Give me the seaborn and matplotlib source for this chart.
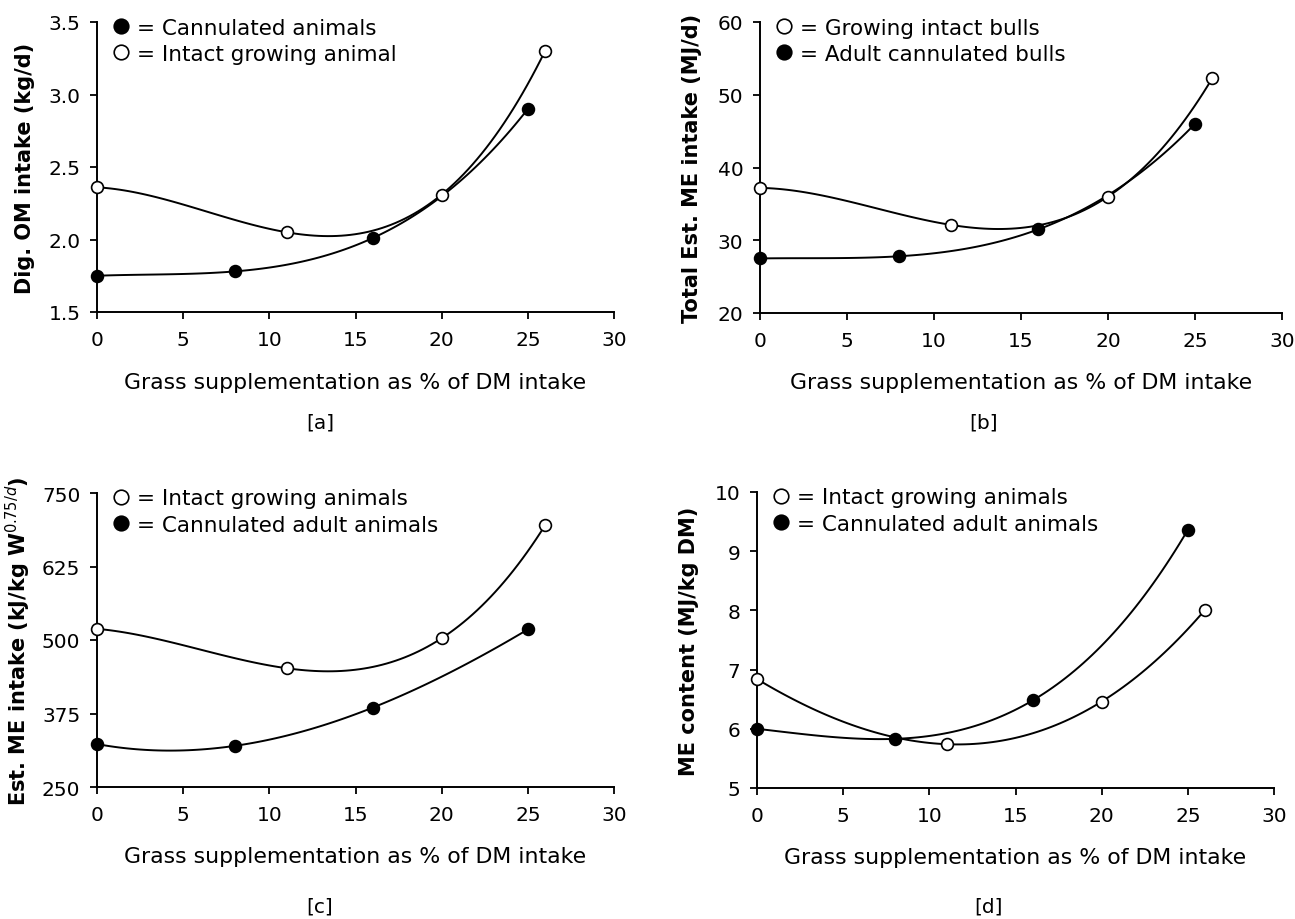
import numpy as np
import pandas as pd
import matplotlib
matplotlib.use("Agg")
import matplotlib.pyplot as plt
import seaborn as sns
from matplotlib.lines import Line2D

sns.set_theme(style="ticks")
plt.rcParams['font.family'] = ['DejaVu Sans']
plt.rcParams['text.color'] = 'black'
plt.rcParams['axes.labelcolor'] = 'black'
plt.rcParams['xtick.color'] = 'black'
plt.rcParams['ytick.color'] = 'black'

# ---- data ----
x_cann = [0, 8, 16, 25]
x_intact = [0, 11, 20, 26]

a_cann = [1.75, 1.78, 2.01, 2.90]
a_intact = [2.36, 2.05, 2.31, 3.30]

b_intact = [37.2, 32.1, 36.0, 52.3]
b_cann = [27.5, 27.8, 31.5, 46.0]

c_intact = [519, 452, 503, 695]
c_cann = [323, 320, 385, 518]

d_intact = [6.84, 5.74, 6.46, 8.01]
d_cann = [6.00, 5.83, 6.48, 9.36]

xlabel = "Grass supplementation as % of DM intake"

W, H = 1295, 920
panels = [
    dict(pos=[97 / W, 1 - 313 / H, 517 / W, 290 / H], ylabel="Dig. OM intake (kg/d)",
         ylim=(1.5, 3.5), yticks=[1.5, 2.0, 2.5, 3.0, 3.5], fmt="{:.1f}",
         series=[("filled", a_cann, "= Cannulated animals"),
                 ("open", a_intact, "= Intact growing animal")],
         tag="[a]", tag_xy=(320 / W, 1 - 423 / H), xl_y=1 - 383 / H, ylx=-0.120),
    dict(pos=[760 / W, 1 - 314 / H, 522 / W, 291 / H], ylabel="Total Est. ME intake (MJ/d)",
         ylim=(20, 60), yticks=[20, 30, 40, 50, 60], fmt="{:.0f}",
         series=[("open", b_intact, "= Growing intact bulls"),
                 ("filled", b_cann, "= Adult cannulated bulls")],
         tag="[b]", tag_xy=(984 / W, 1 - 423 / H), xl_y=1 - 383 / H, ylx=-0.111),
    dict(pos=[97 / W, 1 - 788 / H, 517 / W, 294 / H],
         ylabel="Est. ME intake (kJ/kg W$^{0.75/d}$)",
         ylim=(250, 750), yticks=[250, 375, 500, 625, 750], fmt="{:.0f}",
         series=[("open", c_intact, "= Intact growing animals"),
                 ("filled", c_cann, "= Cannulated adult animals")],
         tag="[c]", tag_xy=(320 / W, 1 - 907 / H), xl_y=1 - 857 / H, ylx=-0.124),
    dict(pos=[757 / W, 1 - 789 / H, 517 / W, 296 / H], ylabel="ME content (MJ/kg DM)",
         ylim=(5, 10), yticks=[5, 6, 7, 8, 9, 10], fmt="{:.0f}",
         series=[("open", d_intact, "= Intact growing animals"),
                 ("filled", d_cann, "= Cannulated adult animals")],
         tag="[d]", tag_xy=(988 / W, 1 - 907 / H), xl_y=1 - 858 / H, ylx=-0.112),
]

fig = plt.figure(figsize=(12.95, 9.2), dpi=100)
fig.patch.set_facecolor("white")

FS = 14.5
for p in panels:
    ax = fig.add_axes(p["pos"])
    handles, labels = [], []
    for kind, yvals, lab in p["series"]:
        xv = x_cann if kind == "filled" else x_intact
        df = pd.DataFrame({"x": xv, "y": yvals})
        sns.regplot(data=df, x="x", y="y", order=3, ci=None, scatter=False,
                    truncate=True, ax=ax,
                    line_kws=dict(color="black", lw=1.4, zorder=2))
        fc = "black" if kind == "filled" else "white"
        ax.plot(df["x"], df["y"], linestyle="none", marker="o", ms=8.5,
                mfc=fc, mec="black", mew=1.2, zorder=3, clip_on=False)
        handles.append(Line2D([], [], linestyle="none", marker="o", ms=10.5,
                              mfc=fc, mec="black", mew=1.2))
        labels.append(lab)
    ax.set_xlim(0, 30)
    ax.set_ylim(*p["ylim"])
    ax.set_xticks([0, 5, 10, 15, 20, 25, 30])
    ax.set_yticks(p["yticks"])
    ax.set_yticklabels([p["fmt"].format(v) for v in p["yticks"]], fontsize=FS)
    ax.tick_params(axis="x", labelsize=FS, length=5, width=1.3, pad=8, color="black")
    ax.tick_params(axis="y", length=5, width=1.3, pad=7, color="black")
    for s in ["top", "right"]:
        ax.spines[s].set_visible(False)
    for s in ["left", "bottom"]:
        ax.spines[s].set_linewidth(1.4)
        ax.spines[s].set_color("black")
    ax.set_facecolor("white")
    ax.set_xlabel("")
    ax.set_ylabel(p["ylabel"], fontsize=15, fontweight="bold")
    ax.yaxis.set_label_coords(p["ylx"], 0.5)
    ax.legend(handles, labels, loc="upper left", frameon=False, fontsize=15.5,
              handletextpad=0.25, borderaxespad=0.0, labelspacing=0.3,
              handlelength=1.0, bbox_to_anchor=(0.008, 1.045))
    cx = p["pos"][0] + p["pos"][2] / 2
    fig.text(cx, p["xl_y"], xlabel, ha="center", va="center", fontsize=15.8)
    fig.text(p["tag_xy"][0], p["tag_xy"][1], p["tag"], ha="center", va="center",
             fontsize=14.5)

fig.savefig("out.png", dpi=100, facecolor="white")
